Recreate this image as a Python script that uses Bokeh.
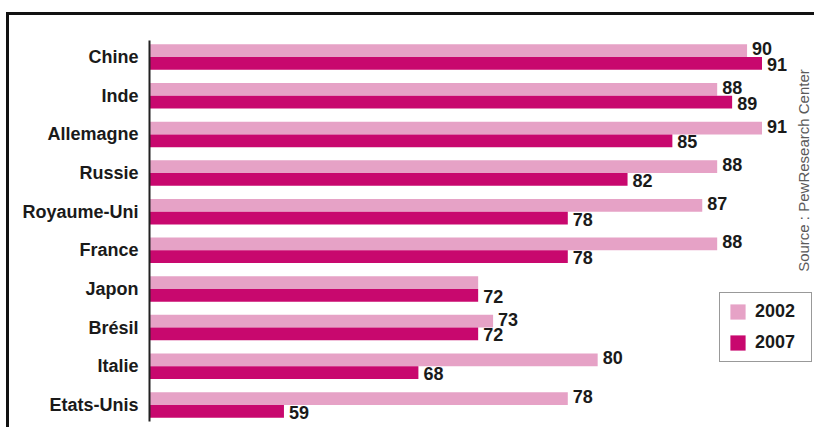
import math
from bokeh.plotting import figure
from bokeh.models import (FactorRange, Range1d, ColumnDataSource, Legend,
                          LegendItem, Label, LabelSet, Spacer)
from bokeh.layouts import column, row
from bokeh.transform import dodge
from bokeh.core.properties import value
from bokeh.embed import file_html
from bokeh.resources import INLINE

# ---- data ----
countries = ["Chine", "Inde", "Allemagne", "Russie", "Royaume-Uni", "France",
             "Japon", "Brésil", "Italie", "Etats-Unis"]
values_2002 = [90, 88, 91, 88, 87, 88, 72, 73, 80, 78]
values_2007 = [91, 89, 85, 82, 78, 78, 72, 72, 68, 59]
labels_2002 = ["90", "88", "91", "88", "87", "88", "", "73", "80", "78"]
labels_2007 = ["91", "89", "85", "82", "78", "78", "72", "72", "68", "59"]
series = ["2002", "2007"]
source_note = "Source : PewResearch Center"

LIGHT = "#E6A2C6"
DARK = "#C8086E"
FONT = "Liberation Sans"

src = ColumnDataSource(dict(country=countries, v2002=values_2002,
                            v2007=values_2007, l2002=labels_2002,
                            l2007=labels_2007))

y_range = FactorRange(factors=list(reversed(countries)),
                      range_padding=-0.07, range_padding_units="absolute")
x_range = Range1d(50, 94.38)

p = figure(width=803, height=412, y_range=y_range, x_range=x_range,
           x_axis_location=None, output_backend="svg", toolbar_location=None,
           min_border_left=140, min_border_top=25, min_border_bottom=6,
           min_border_right=0)

p.grid.visible = False
p.outline_line_color = None
p.background_fill_color = "white"

ax = p.yaxis[0]
ax.axis_line_width = 2
ax.axis_line_color = "#222"
ax.major_tick_line_color = None
ax.major_label_standoff = 5
ax.major_label_text_font = FONT
ax.major_label_text_font_style = "bold"
ax.major_label_text_font_size = "18px"
ax.major_label_text_color = "#1a1a1a"

y_top = dodge("country", 0.165, range=p.y_range)
y_bot = dodge("country", -0.165, range=p.y_range)

r1 = p.hbar(y=y_top, left=x_range.start, right="v2002", height=0.33,
            fill_color=LIGHT, line_color=None, source=src)
r2 = p.hbar(y=y_bot, left=x_range.start, right="v2007", height=0.33,
            fill_color=DARK, line_color=None, source=src)

common = dict(text_font=value(FONT), text_font_style="bold",
              text_font_size="18px", text_baseline="middle",
              text_align="left", text_color="#1a1a1a", source=src)
p.add_layout(LabelSet(x="v2002", y=y_top, text="l2002", x_offset=5,
                      y_offset=2, **common))
p.add_layout(LabelSet(x="v2007", y=y_bot, text="l2007", x_offset=5,
                      y_offset=-1, **common))

legend = Legend(items=[LegendItem(label=series[0], renderers=[r1]),
                       LegendItem(label=series[1], renderers=[r2])],
                location=(570, 59), orientation="vertical",
                glyph_width=19, glyph_height=19, label_height=19,
                label_width=48, label_standoff=8, spacing=10, padding=8,
                margin=0, border_line_color="#333", border_line_width=1,
                label_text_font=FONT, label_text_font_style="bold",
                label_text_font_size="18px", label_text_color="#1a1a1a",
                background_fill_color="white", background_fill_alpha=1)
p.add_layout(legend)

p.add_layout(Label(x=93.77, y=6.565, text=source_note, angle=math.pi / 2,
                   text_align="center", text_baseline="middle",
                   text_font=FONT, text_font_size="15px",
                   text_color="#5a5a5a"))

# top and left edges of the original clipping
top_line = Spacer(width=805, height=3, styles={"background-color": "#111"})
left_line = Spacer(width=3, height=415, styles={"background-color": "#111"})
layout = column(Spacer(width=814, height=12),
                row(Spacer(width=6, height=415), left_line,
                    column(top_line, p)))

open("out.html", "w").write(file_html(layout, INLINE))
